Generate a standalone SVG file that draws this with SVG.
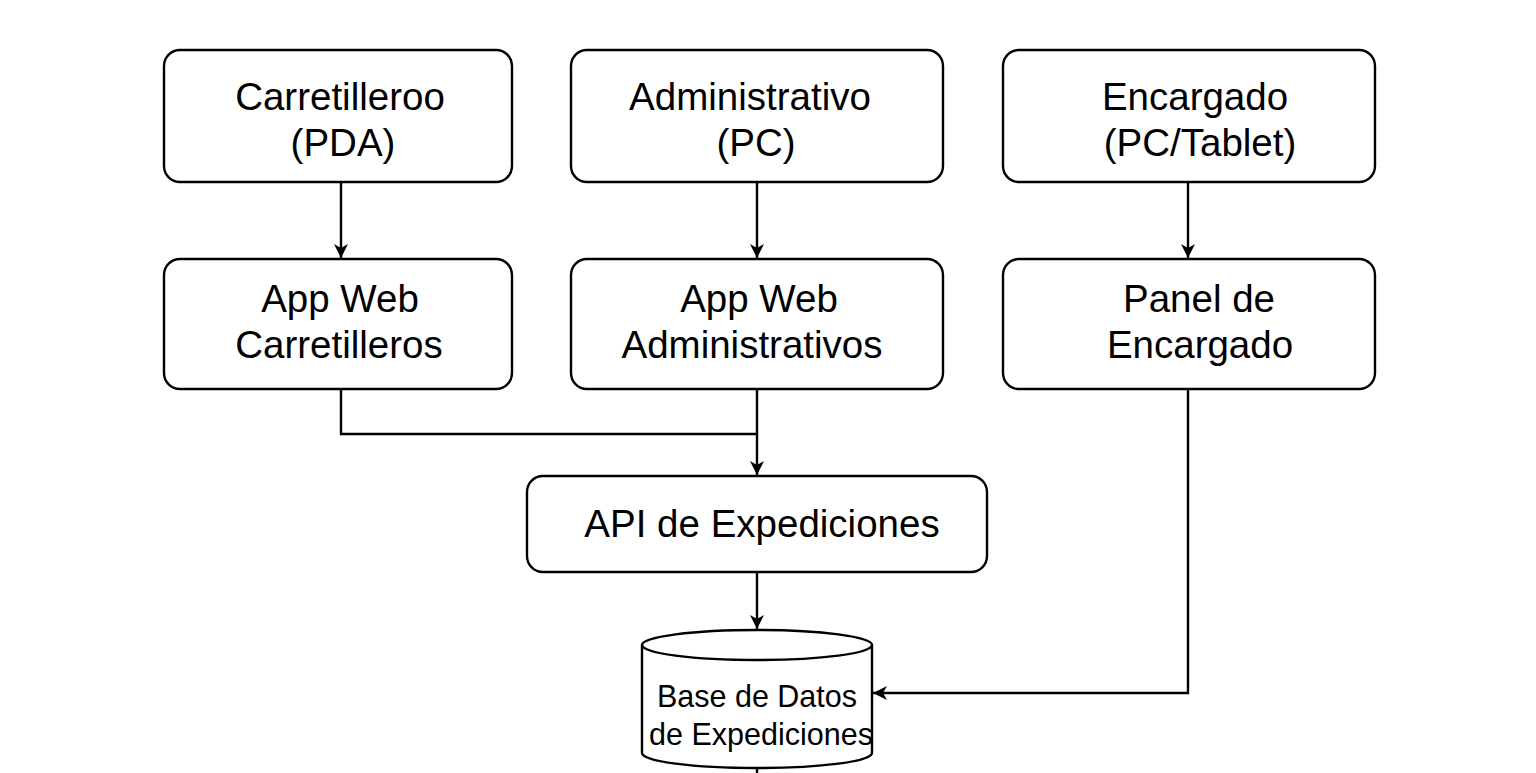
<svg xmlns="http://www.w3.org/2000/svg" width="1536" height="773" viewBox="0 0 1536 773">
<defs>
<style>
.box{fill:#fff;stroke:#000;stroke-width:2.4}
.t{font-family:"Liberation Sans",Arial,sans-serif;font-size:38.5px;fill:#000;text-anchor:middle}
.td{font-family:"Liberation Sans",Arial,sans-serif;font-size:30.5px;fill:#000;text-anchor:middle}
.c{fill:none;stroke:#000;stroke-width:2.4}
</style>
<marker id="ah" viewBox="0 0 14 14" refX="14" refY="7" markerWidth="14" markerHeight="14" markerUnits="userSpaceOnUse" orient="auto">
<path d="M0,0 L14,7 L0,14 L4,7 Z" fill="#000"/>
</marker>
</defs>
<rect width="1536" height="773" fill="#fff"/>
<g id="connectors">
<path class="c" d="M341,182 V258" marker-end="url(#ah)"/>
<path class="c" d="M757,182 V258" marker-end="url(#ah)"/>
<path class="c" d="M1188,182 V258" marker-end="url(#ah)"/>
<path class="c" d="M341,389 V434 H757"/>
<path class="c" d="M757,389 V475" marker-end="url(#ah)"/>
<path class="c" d="M757,572 V629" marker-end="url(#ah)"/>
<path class="c" d="M1188,389 V693 H873" marker-end="url(#ah)"/>
<path class="c" d="M757,768 V773"/>
</g>
<g id="carretillero">
<rect class="box" x="164" y="50" width="348" height="132" rx="16"/>
<text class="t" x="340" y="110">Carretilleroo</text>
<text class="t" x="343" y="156">(PDA)</text>
</g>
<g id="administrativo">
<rect class="box" x="571" y="50" width="372" height="132" rx="16"/>
<text class="t" x="750" y="110">Administrativo</text>
<text class="t" x="756" y="156">(PC)</text>
</g>
<g id="encargado">
<rect class="box" x="1003" y="50" width="372" height="132" rx="16"/>
<text class="t" x="1195" y="110">Encargado</text>
<text class="t" x="1200" y="156">(PC/Tablet)</text>
</g>
<g id="app-carretilleros">
<rect class="box" x="164" y="259" width="348" height="130" rx="16"/>
<text class="t" x="340" y="312">App Web</text>
<text class="t" x="339" y="358">Carretilleros</text>
</g>
<g id="app-administrativos">
<rect class="box" x="571" y="259" width="372" height="130" rx="16"/>
<text class="t" x="759" y="312">App Web</text>
<text class="t" x="752" y="358">Administrativos</text>
</g>
<g id="panel-encargado">
<rect class="box" x="1003" y="259" width="372" height="130" rx="16"/>
<text class="t" x="1199" y="312">Panel de</text>
<text class="t" x="1200" y="358">Encargado</text>
</g>
<g id="api">
<rect class="box" x="527" y="476" width="460" height="96" rx="16"/>
<text class="t" x="762" y="537">API de Expediciones</text>
</g>
<g id="db">
<path class="box" d="M642,645 V753 A115,15 0 0 0 872,753 V645 A115,15 0 0 0 642,645 Z"/>
<path class="c" d="M642,645 A115,15 0 0 0 872,645"/>
<text class="td" x="757" y="707">Base de Datos</text>
<text class="td" x="761" y="745">de Expediciones</text>
</g>
</svg>
